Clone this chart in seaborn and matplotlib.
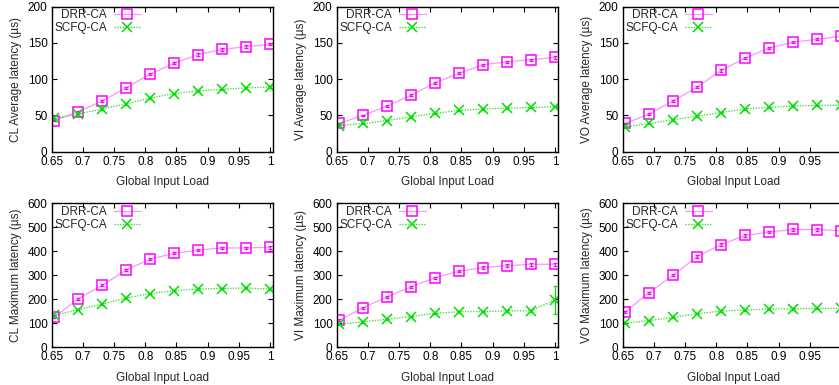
import matplotlib
matplotlib.use("Agg")
import matplotlib.pyplot as plt
import seaborn as sns
import numpy as np
import pandas as pd

# ---------------- data ----------------
loads = [17/26, 18/26, 19/26, 20/26, 21/26, 22/26, 23/26, 24/26, 25/26, 26/26]
series_names = ["DRR-CA", "SCFQ-CA"]

cl_avg_drr = [43, 55, 70, 88, 107, 122, 134, 141, 145, 148]
cl_avg_scfq = [46, 52, 59, 66, 74, 80, 84, 86, 88, 89]
vi_avg_drr = [39, 50, 63, 78, 95, 108, 120, 124, 127, 130]
vi_avg_scfq = [36, 39, 43, 48, 53, 57, 59, 60, 61, 62]
vo_avg_drr = [39, 52, 70, 89, 112, 129, 143, 151, 155, 159]
vo_avg_scfq = [34, 39, 44, 49, 54, 59, 61, 63, 64, 64]

cl_max_drr = [125, 202, 258, 322, 367, 392, 405, 414, 414, 417]
cl_max_scfq = [133, 157, 180, 205, 224, 236, 243, 245, 247, 243]
vi_max_drr = [112, 165, 210, 252, 290, 317, 332, 340, 346, 346]
vi_max_scfq = [96, 106, 117, 128, 142, 148, 149, 152, 152, 198]
vo_max_drr = [147, 228, 300, 378, 428, 466, 480, 491, 490, 486]
vo_max_scfq = [100, 111, 125, 140, 151, 155, 160, 160, 162, 162]

err_avg_drr = [1, 1, 1, 1.5, 1.5, 1.5, 1.5, 1.5, 1.5, 1.5]
err_avg_scfq = [1, 1, 1, 1, 1, 1, 1, 1, 1, 1]
err_max_drr = [4, 4, 4, 5, 5, 5, 5, 6, 6, 6]
err_max_scfq = [3, 3, 3, 3, 3, 3, 3, 3, 3, 3]
err_vi_max_scfq = [3, 3, 3, 3, 3, 3, 3, 3, 3, 58]

panels = [
    ("CL Average latency (\u00b5s)", cl_avg_drr, cl_avg_scfq, err_avg_drr, err_avg_scfq, 200, 50),
    ("VI Average latency (\u00b5s)", vi_avg_drr, vi_avg_scfq, err_avg_drr, err_avg_scfq, 200, 50),
    ("VO Average latency (\u00b5s)", vo_avg_drr, vo_avg_scfq, err_avg_drr, err_avg_scfq, 200, 50),
    ("CL Maximum latency (\u00b5s)", cl_max_drr, cl_max_scfq, err_max_drr, err_max_scfq, 600, 100),
    ("VI Maximum latency (\u00b5s)", vi_max_drr, vi_max_scfq, err_max_drr, err_vi_max_scfq, 600, 100),
    ("VO Maximum latency (\u00b5s)", vo_max_drr, vo_max_scfq, err_max_drr, err_max_scfq, 600, 100),
]
xlabel = "Global Input Load"
xticks = [0.65, 0.7, 0.75, 0.8, 0.85, 0.9, 0.95, 1]
xticklabels = ["0.65", "0.7", "0.75", "0.8", "0.85", "0.9", "0.95", "1"]

# ---------------- style ----------------
FS = 8.5
sns.set_style("ticks")
plt.rcParams["font.family"] = ["Liberation Sans", "DejaVu Sans"]
plt.rcParams["font.size"] = FS
plt.rcParams["axes.linewidth"] = 1.0

W, H = 839, 385
fig = plt.figure(figsize=(W / 100, H / 100), dpi=100)

col_left = [51.7, 336.7, 622.7]
ax_w = 220.8
row_top = [6.7, 203.3]
row_h = [145.0, 144.0]

mk_color = {"DRR-CA": "#ff00ff", "SCFQ-CA": "#00e000"}
ln_color = {"DRR-CA": "#f59af5", "SCFQ-CA": "#22dd22"}
markers = {"DRR-CA": "s", "SCFQ-CA": "x"}
lstyles = {"DRR-CA": "-", "SCFQ-CA": (0, (1, 1.2))}

for i, (ylab, drr, scfq, edrr, escfq, ymax, ystep) in enumerate(panels):
    r, c = divmod(i, 3)
    left = col_left[c] / W
    bottom = 1 - (row_top[r] + row_h[r]) / H
    ax = fig.add_axes([left, bottom, ax_w / W, row_h[r] / H])

    handles = []
    for nm, vals, errs in (("DRR-CA", drr, edrr), ("SCFQ-CA", scfq, escfq)):
        df = pd.DataFrame({"load": loads, "latency": vals})
        n0 = len(ax.get_lines())
        sns.lineplot(data=df, x="load", y="latency", ax=ax, color=ln_color[nm],
                     linewidth=0.9, linestyle=lstyles[nm], marker=markers[nm],
                     markersize=7, markeredgecolor=mk_color[nm],
                     markerfacecolor="none" if nm == "DRR-CA" else mk_color[nm],
                     markeredgewidth=1.1, legend=False)
        ln = ax.get_lines()[n0]
        handles.append(ln)
        ax.errorbar(loads, vals, yerr=errs, fmt="none", ecolor=mk_color[nm],
                    elinewidth=0.9, capsize=1.5, capthick=0.9)

    leg = ax.legend(handles, series_names, loc="upper left", bbox_to_anchor=(0.0, 1.0),
                    markerfirst=False, frameon=False, handlelength=2.3,
                    handletextpad=0.6, labelspacing=0.1, borderpad=0.2,
                    borderaxespad=0.0, fontsize=FS)
    leg._legend_box.align = "right"

    ax.set_xlim(0.65, 1.004)
    ax.set_ylim(0, ymax)
    ax.set_xticks(xticks)
    ax.set_xticklabels(xticklabels)
    ax.set_yticks(np.arange(0, ymax + 1, ystep))
    ax.tick_params(direction="in", top=True, right=True, length=3.5, width=0.8,
                   pad=3, labelsize=FS, colors="black")
    for s in ax.spines.values():
        s.set_visible(True)
        s.set_color("black")
    ax.set_xlabel(xlabel, labelpad=6)
    ax.set_ylabel(ylab, labelpad=4)

fig.savefig("out.png", dpi=100)
